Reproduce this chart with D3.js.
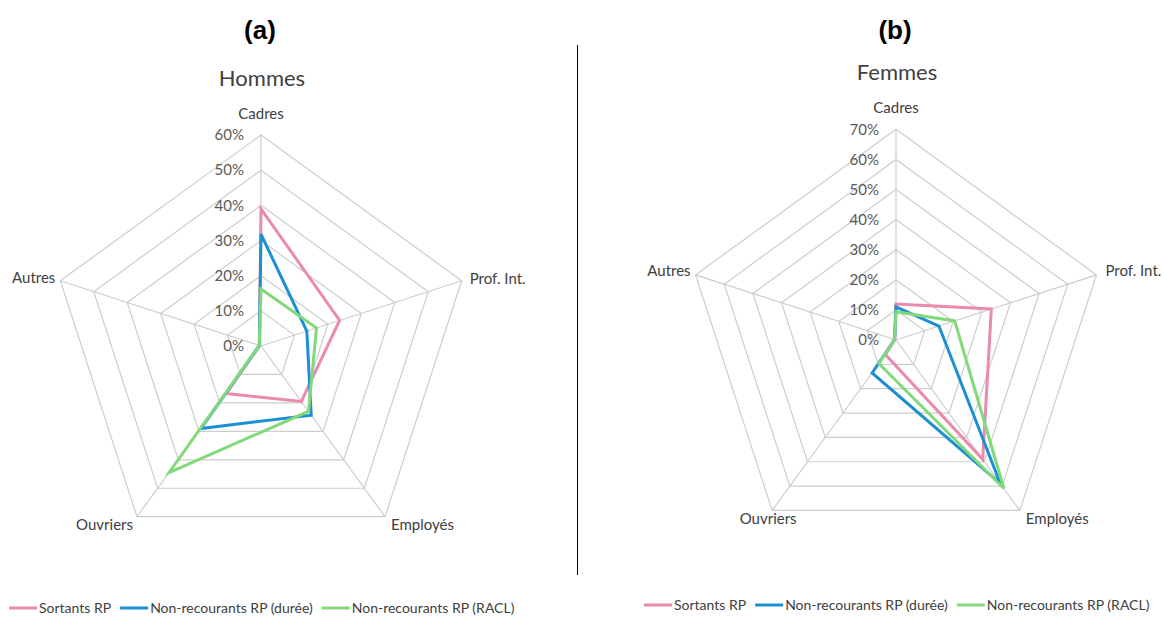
<!DOCTYPE html>
<html>
<head>
<meta charset="utf-8">
<script src="https://cdn.jsdelivr.net/npm/d3@7"></script>
<style>
  html, body { margin: 0; padding: 0; background: #ffffff; }
  svg { display: block; }
</style>
</head>
<body>
<svg id="chart" width="1164" height="618"></svg>
<script>
// Categories (radar axes, clockwise from the top)
const categories = ["Cadres", "Prof. Int.", "Employés", "Ouvriers", "Autres"];
const seriesNames = ["Sortants RP", "Non-recourants RP (durée)", "Non-recourants RP (RACL)"];

// Hommes (%)
const hommesSortants = [39, 23.5, 19.5, 16.7, 0.5];
const hommesDuree    = [31.8, 13.7, 24.3, 29, 0.5];
const hommesRacl     = [16.2, 16.6, 23, 44.5, 0.5];

// Femmes (%)
const femmesSortants = [12, 33.3, 49, 6, 0.5];
const femmesDuree    = [11, 15, 59, 13.5, 0.5];
const femmesRacl     = [9.4, 20.5, 61, 9.7, 0.5];

// Radial tick labels
const hommesTicks = [0, 10, 20, 30, 40, 50, 60];
const femmesTicks = [0, 10, 20, 30, 40, 50, 60, 70];

const colors = ["#ea8bae", "#1b8fd4", "#82d97b"];
const textFont = "Lato, 'Open Sans', sans-serif";

const svg = d3.select("#chart");

function drawRadar(opts) {
  const { cx, cy, radius, ticks, series, labelPos, title, titleY, tag, tagY } = opts;
  const g = svg.append("g").attr("transform", `translate(${cx},${cy})`);
  const maxV = ticks[ticks.length - 1];
  const r = d3.scaleLinear().domain([0, maxV]).range([0, radius]);
  const angle = d3.scalePoint().domain(categories.concat(["_end"])).range([0, 2 * Math.PI]);
  const pt = (cat, v) => {
    const a = angle(cat);
    return [r(v) * Math.sin(a), -r(v) * Math.cos(a)];
  };

  // grid rings
  ticks.filter(t => t > 0).forEach(t => {
    g.append("path")
      .attr("d", d3.line()(categories.map(c => pt(c, t))) + "Z")
      .attr("fill", "none")
      .attr("stroke", "#cdcdcd")
      .attr("stroke-width", 1.2);
  });
  // spokes
  categories.forEach(c => {
    const p = pt(c, maxV);
    g.append("line")
      .attr("x1", 0).attr("y1", 0)
      .attr("x2", p[0]).attr("y2", p[1])
      .attr("stroke", "#cdcdcd")
      .attr("stroke-width", 1.2);
  });

  // tick labels along the top spoke
  g.selectAll("text.tick")
    .data(ticks)
    .join("text")
    .attr("class", "tick")
    .attr("x", -17)
    .attr("y", d => -r(d))
    .attr("dy", "0.35em")
    .attr("text-anchor", "end")
    .attr("font-family", textFont)
    .attr("font-size", 15)
    .attr("fill", "#595959")
    .text(d => d + "%");

  // series polygons
  series.forEach((vals, i) => {
    g.append("path")
      .attr("d", d3.line()(categories.map((c, k) => pt(c, vals[k]))) + "Z")
      .attr("fill", "none")
      .attr("stroke", colors[i])
      .attr("stroke-width", 3)
      .attr("stroke-linejoin", "miter");
  });

  // category labels
  categories.forEach((c, k) => {
    const p = pt(c, maxV);
    const lp = labelPos[k];
    g.append("text")
      .attr("x", p[0] + lp[0])
      .attr("y", p[1] + lp[1])
      .attr("dy", "0.35em")
      .attr("text-anchor", lp[2])
      .attr("font-family", textFont)
      .attr("font-size", 15)
      .attr("fill", "#404040")
      .text(c);
  });

  // chart title and panel tag
  svg.append("text")
    .attr("x", cx + 1).attr("y", titleY)
    .attr("dy", "0.35em")
    .attr("text-anchor", "middle")
    .attr("font-family", textFont)
    .attr("font-size", 22)
    .attr("fill", "#404040")
    .text(title);
  svg.append("text")
    .attr("x", cx - 1).attr("y", tagY)
    .attr("dy", "0.35em")
    .attr("text-anchor", "middle")
    .attr("font-family", "'Liberation Sans', Arial, sans-serif")
    .attr("font-weight", "bold")
    .attr("font-size", 26)
    .attr("fill", "#000000")
    .text(tag);
}

function drawLegend(x0, y, gaps) {
  const g = svg.append("g").attr("transform", `translate(${x0},${y})`);
  let x = 0;
  seriesNames.forEach((name, i) => {
    g.append("line")
      .attr("x1", x).attr("x2", x + 28)
      .attr("y1", 0).attr("y2", 0)
      .attr("stroke", colors[i])
      .attr("stroke-width", 3);
    const t = g.append("text")
      .attr("x", x + 30)
      .attr("y", 0)
      .attr("dy", "0.35em")
      .attr("font-family", textFont)
      .attr("font-size", 14)
      .attr("fill", "#404040")
      .text(name);
    x += 30 + t.node().getComputedTextLength() + gaps;
  });
}

drawRadar({
  cx: 261, cy: 346, radius: 211,
  ticks: hommesTicks,
  series: [hommesSortants, hommesDuree, hommesRacl],
  labelPos: [[0, -21, "middle"], [8, -2, "start"], [6, 8, "start"], [-4, 8, "end"], [-5, -3, "end"]],
  title: "Hommes", titleY: 78, tag: "(a)", tagY: 30
});

drawRadar({
  cx: 896, cy: 340, radius: 210.7,
  ticks: femmesTicks,
  series: [femmesSortants, femmesDuree, femmesRacl],
  labelPos: [[0, -22, "middle"], [9, -4, "start"], [6, 8, "start"], [-4, 8, "middle"], [-5, -4, "end"]],
  title: "Femmes", titleY: 72, tag: "(b)", tagY: 30
});

// separator between the two panels
svg.append("line")
  .attr("x1", 577.5).attr("x2", 577.5)
  .attr("y1", 45).attr("y2", 575)
  .attr("stroke", "#000000")
  .attr("stroke-width", 1);

drawLegend(9, 608, 9);
drawLegend(644, 605, 9);
</script>
</body>
</html>
